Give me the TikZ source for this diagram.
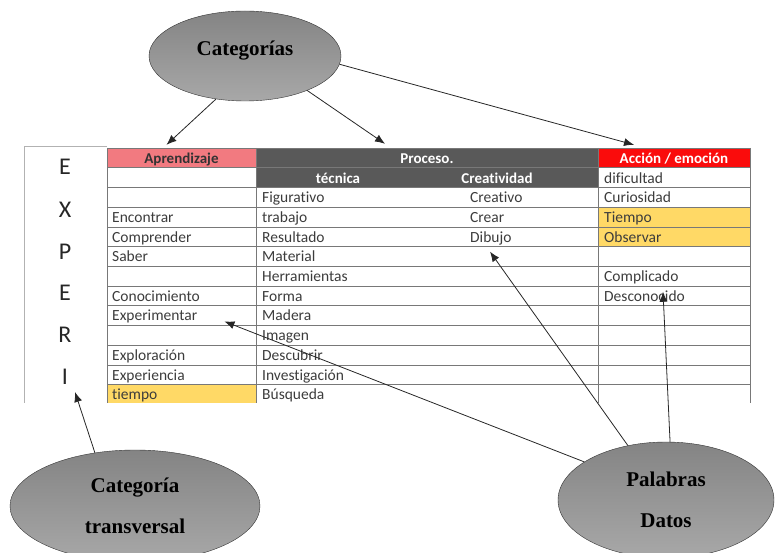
\documentclass[tikz,border=0pt]{standalone}
\usepackage{fontspec}
\usepackage{tikz}
\usetikzlibrary{shapes.geometric,arrows.meta}
\newfontfamily\calibri[Ligatures=NoCommon]{Carlito}
\newfontfamily\timesfont{Liberation Serif}
\definecolor{aprpink}{RGB}{242,122,128}
\definecolor{procgray}{RGB}{89,89,89}
\definecolor{accred}{RGB}{250,12,12}
\definecolor{celyellow}{RGB}{255,217,102}
\definecolor{gridgray}{RGB}{120,120,120}
\definecolor{txtgray}{RGB}{60,60,60}
\definecolor{bubtop}{RGB}{132,132,132}
\definecolor{bubbot}{RGB}{168,168,168}

\begin{document}
\begin{tikzpicture}[x=1pt, y=-1pt,
  cell/.style={anchor=west, inner sep=0pt, text height=11pt, text depth=0pt, text=txtgray, font=\calibri\fontsize{15.5}{18}\selectfont},
  hdr/.style={inner sep=0pt, minimum height=19.7pt, text height=11pt, text depth=0pt, font=\calibri\bfseries\fontsize{15}{18}\selectfont},
  letra/.style={text=black!85, font=\calibri\fontsize{24}{28}\selectfont},
  burbuja/.style={ellipse, draw=black!80, top color=bubtop, bottom color=bubbot, inner sep=0pt, align=center, font=\timesfont\bfseries\fontsize{21}{24}\selectfont},
  flecha/.style={draw=black!85, line width=0.8pt, -{Latex[length=10pt,width=8pt]}}
]
\useasboundingbox (0,0) rectangle (776,553);

\fill [aprpink] (107,148) rectangle (256,167.7);
\fill [procgray] (256,148) rectangle (598,187.4);
\fill [accred] (598,148) rectangle (750,167.7);
\fill [celyellow] (598,207.1) rectangle (750,246.5);
\fill [celyellow] (107,384.4) rectangle (256,403);

\draw[gray!60] (107,146)--(24,146)--(24,403);

\draw[gridgray] (107,148)--(750,148);
\draw[gridgray] (107,167.7)--(750,167.7);
\draw[gridgray] (107,187.4)--(750,187.4);
\draw[gridgray] (107,207.1)--(750,207.1);
\draw[gridgray] (107,226.8)--(750,226.8);
\draw[gridgray] (107,246.5)--(750,246.5);
\draw[gridgray] (107,266.2)--(750,266.2);
\draw[gridgray] (107,285.9)--(750,285.9);
\draw[gridgray] (107,305.6)--(750,305.6);
\draw[gridgray] (107,325.3)--(750,325.3);
\draw[gridgray] (107,345)--(750,345);
\draw[gridgray] (107,364.7)--(750,364.7);
\draw[gridgray] (107,384.4)--(750,384.4);

\draw[gridgray] (107,148)--(107,403);
\draw[gridgray] (256,148)--(256,403);
\draw[gridgray] (598,148)--(598,403);
\draw[gridgray] (750,148)--(750,403);

% encabezados
\node[hdr, text=black!80, minimum width=149pt] (aprendizaje) at (181.5,157.85) {Aprendizaje};
\node[hdr, text=white, minimum width=342pt] (proceso) at (427,157.85) {Proceso.};
\node[hdr, text=white, minimum width=152pt] (accion) at (674,157.85) {Acción / emoción};
\node[hdr, text=white] (tecnica) at (338,177.55) {técnica};
\node[hdr, text=white] (creatividad) at (497,177.55) {Creatividad};

% columna Aprendizaje
\node[cell] (encontrar) at (112,216.95) {Encontrar};
\node[cell] (comprender) at (112,236.65) {Comprender};
\node[cell] (saber) at (112,256.35) {Saber};
\node[cell] (conocimiento) at (112,295.75) {Conocimiento};
\node[cell] (experimentar) at (112,315.45) {Experimentar};
\node[cell] (exploracion) at (112,354.85) {Exploración};
\node[cell] (experiencia) at (112,374.55) {Experiencia};
\node[cell] (tiempoa) at (112,394.25) {tiempo};

% columna técnica
\node[cell] (figurativo) at (262,197.25) {Figurativo};
\node[cell] (trabajo) at (262,216.95) {trabajo};
\node[cell] (resultado) at (262,236.65) {Resultado};
\node[cell] (material) at (262,256.35) {Material};
\node[cell] (herramientas) at (262,276.05) {Herramientas};
\node[cell] (forma) at (262,295.75) {Forma};
\node[cell] (madera) at (262,315.45) {Madera};
\node[cell] (imagen) at (262,335.15) {Imagen};
\node[cell] (descubrir) at (262,354.85) {Descubrir};
\node[cell] (investigacion) at (262,374.55) {Investigación};
\node[cell] (busqueda) at (262,394.25) {Búsqueda};

% columna Creatividad
\node[cell] (creativo) at (470,197.25) {Creativo};
\node[cell] (crear) at (470,216.95) {Crear};
\node[cell] (dibujo) at (470,236.65) {Dibujo};

% columna Acción / emoción
\node[cell] (dificultad) at (604,177.55) {dificultad};
\node[cell] (curiosidad) at (604,197.25) {Curiosidad};
\node[cell] (tiempob) at (604,216.95) {Tiempo};
\node[cell] (observar) at (604,236.65) {Observar};
\node[cell] (complicado) at (604,276.05) {Complicado};
\node[cell] (desconocido) at (604,295.75) {Desconocido};

% EXPERI
\node[letra] (letE) at (65,167) {E};
\node[letra] (letX) at (65,210) {X};
\node[letra] (letP) at (65,252) {P};
\node[letra] (letEb) at (65,293) {E};
\node[letra] (letR) at (65,335) {R};
\node[letra] (letI) at (65,377) {I};

% burbujas
\node[burbuja, minimum width=192pt, minimum height=90pt] (categorias) at (245,56) {\raisebox{0pt}[0pt][0pt]{Categorías}};
\node[burbuja, minimum width=250pt, minimum height=112pt] (transversal) at (135,506) {Categoría\\[17pt]transversal};
\node[burbuja, minimum width=216pt, minimum height=116pt] (palabras) at (666,500) {Palabras\\[17pt]Datos};

\draw[flecha] (categorias.236) -- ([xshift=-15pt,yshift=3pt]aprendizaje.north);
\draw[flecha] (categorias.331) -- ([xshift=-42pt,yshift=4pt]proceso.north);
\draw[flecha] (categorias.355) -- ([xshift=-40pt,yshift=3pt]accion.north);
\draw[flecha] (transversal.127) -- ([xshift=10pt,yshift=-15pt]letI.center);
\draw[flecha] (palabras.155) -- ([xshift=27pt,yshift=-6pt]experimentar.east);
\draw[flecha] (palabras.125) -- ([xshift=20pt,yshift=-15pt]dibujo.west);
\draw[flecha] (palabras.86) -- ([xshift=59pt,yshift=4pt]desconocido.west);

\end{tikzpicture}
\end{document}
